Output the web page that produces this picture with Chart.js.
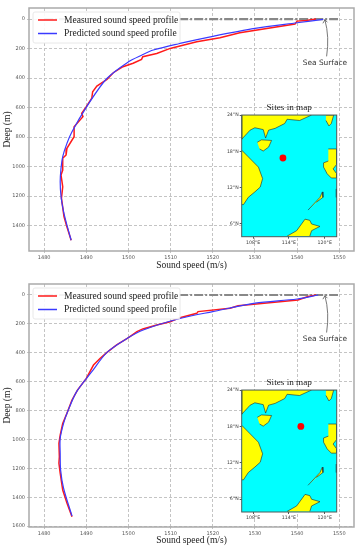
<!DOCTYPE html>
<html>
<head>
<meta charset="utf-8">
<title>Sound speed profiles</title>
<script src="https://cdn.jsdelivr.net/npm/chart.js@4/dist/chart.umd.js"></script>
<style>
    html, body { margin:0; padding:0; background:#fff; }
    #page { position:relative; width:360px; height:550px; overflow:hidden; }
    canvas { position:absolute; }
</style>
</head>
<body>
<div id="page">
    <canvas id="profilChart1" width="360" height="275" style="left:0;top:0"></canvas>
    <canvas id="profilChart2" width="360" height="275" style="left:0;top:275px"></canvas>
    <canvas id="mapChart1" width="120" height="150" style="left:222px;top:100px"></canvas>
    <canvas id="mapChart2" width="120" height="150" style="left:222px;top:375px"></canvas>
</div>
<script>
// --- Data ---
const speedTicks = [1480,1490,1500,1510,1520,1530,1540,1550];
const depthTicks1 = [0,200,400,600,800,1000,1200,1400];
const depthTicks2 = [0,200,400,600,800,1000,1200,1400,1600];
const seaSpeed = [1480,1549.7];
const seaDepth = [0,0];

// Profil du haut
const measuredSpeed1 = [1544.5,1542.2,1540,1539.5,1526.4,1521.7,1516.2,1512.2,1509.9,1506.7,1503.4,1503.1,1501.1,1498.7,1496.4,1494.9,1492.5,1491.5,1491.3,1490,1488.9,1489.2,1487.1,1487.1,1485.4,1485.2,1484.4,1484.4,1484,1484.4,1484.1,1484.7,1485.3,1486.4];
const measuredDepth1 = [0,9,14,34,93,127,154,183,199,233,255,273,300,323,364,409,454,493,536,594,639,662,730,798,877,922,943,1024,1058,1137,1215,1340,1400,1500];
const predictedSpeed1 = [1546.2,1540,1530,1520,1512.2,1505.9,1503.1,1500,1494.8,1490.1,1486.6,1485.4,1484.4,1484,1483.8,1484,1484.6,1485.4,1486.4];
const predictedDepth1 = [2,25,63,117,165,210,245,290,405,594,764,843,933,1010,1103,1205,1306,1398,1500];

// Profil du bas
const measuredSpeed2 = [1544.5,1542.6,1540.2,1526,1524.1,1516.5,1516.2,1512.2,1509.9,1506.7,1503.4,1502,1500,1497.2,1494.9,1493.3,1491.7,1490,1487.9,1486.6,1485.4,1484.4,1483.8,1483.5,1483.6,1483.5,1483.8,1484.4,1485.4,1486.6];
const measuredDepth2 = [0,11,35,74,92,115,127,157,185,208,235,254,295,346,397,438,485,577,658,727,819,889,970,1027,1120,1165,1233,1350,1440,1535];
const predictedSpeed2 = [1545,1540,1530,1520,1512.2,1503.5,1500,1494.9,1491.3,1487.7,1485.6,1484.6,1483.8,1483.8,1483.9,1484.6,1486.6];
const predictedDepth2 = [0,28,57,115,163,242,295,397,531,669,805,889,993,1097,1212,1337,1530];

// Carte
const lonTicks = [108,114,120];
const latTicks = [6,12,18,24];
const chinaLon = [106.1,106.1,107.5,108.3,109.7,110.1,110.6,111.7,113.3,113.7,115.8,117.8];
const chinaLat = [24,20,21.5,21.9,21.6,20.2,21.5,21.8,22.6,23.3,23.1,24];
const riverLon = [110.1,113.1,113.3];
const riverLat = [23.6,23.3,22.9];
const hainanLon = [108.7,109.4,111.1,110.6,109.7,109.1];
const hainanLat = [19.5,19.9,19.8,18.7,18.05,18.4];
const vietnamLon = [106.1,107.2,108.9,109.6,109.2,108.3,107.2,106.4,106.1];
const vietnamLat = [18.2,17.1,15.4,13.5,12.1,11.3,10.4,9.2,9.2];
const taiwanLon = [120.2,121.5,121.1,120.7,120.2];
const taiwanLat = [24,24,22.6,22.2,23.1];
const luzonLon = [120.6,122,122,121.4,122,122,121.1,120.4,119.8,119.8,120.6];
const luzonLat = [18.4,18.4,15.85,15.1,14.3,13.6,13.6,14.3,15.4,16.1,16.4];
const palawanLon = [117.2,119.2,119.6,119.7,118.6];
const palawanLat = [8.3,10.4,11.3,10.4,9.6];
const borneoLon = [113.7,115.3,116.7,117.5,117.8,119.2,117.8,117.5];
const borneoLat = [4,4.9,6.8,6.6,6,5.6,4.9,4];
const mindoroLon = [121.95,121.95];
const mindoroLat = [11.8,10.4];
const siteLon1 = [113];
const siteLat1 = [16.9];
const siteLon2 = [116];
const siteLat2 = [18];

const toPoints = (xs, ys) => xs.map((x, i) => ({x:x, y:ys[i]}));

// --- Plugins ---
const framePlugin = (color, width) => ({
    id:'frame',
    afterDraw(chart) {
        const {ctx, chartArea:a} = chart;
        ctx.save();
        ctx.strokeStyle = color;
        ctx.lineWidth = width;
        ctx.strokeRect(a.left, a.top, a.right - a.left, a.bottom - a.top);
        ctx.restore();
    }
});

// Légende dans le graphique, au-dessus des courbes
const legendPlugin = {
    id:'insideLegend',
    afterDatasetsDraw(chart) {
        const ctx = chart.ctx;
        const top = chart.chartArea.top;
        ctx.save();
        ctx.beginPath();
        ctx.roundRect(33, top + 4, 147, 31, 2);
        ctx.fillStyle = 'rgba(255,255,255,0.9)';
        ctx.fill();
        ctx.strokeStyle = '#e8e8e8';
        ctx.lineWidth = 1;
        ctx.stroke();
        ctx.font = '9.5px "Liberation Serif"';
        ctx.textBaseline = 'middle';
        chart.data.datasets.slice(0, 2).forEach((d, i) => {
            const y = top + 12 + i * 13.5;
            ctx.beginPath();
            ctx.moveTo(38, y);
            ctx.lineTo(57, y);
            ctx.strokeStyle = d.borderColor;
            ctx.lineWidth = 1.5;
            ctx.stroke();
            ctx.fillStyle = '#222';
            ctx.fillText(d.label, 64, y);
        });
        ctx.restore();
    }
};

// Flèche "Sea Surface"
const surfacePlugin = (textDepth) => ({
    id:'surfaceNote',
    afterDatasetsDraw(chart) {
        const {ctx, scales:{x, y}} = chart;
        const tipX = x.getPixelForValue(1546.6), tipY = y.getPixelForValue(5);
        const tailX = x.getPixelForValue(1547), tailY = y.getPixelForValue(textDepth - 45);
        ctx.save();
        ctx.strokeStyle = '#555';
        ctx.lineWidth = 0.8;
        ctx.beginPath();
        ctx.moveTo(tailX, tailY);
        ctx.quadraticCurveTo(tailX + 3, tipY + 17, tipX, tipY);
        ctx.moveTo(tipX - 2, tipY + 3.5);
        ctx.lineTo(tipX, tipY);
        ctx.lineTo(tipX + 2.5, tipY + 2.5);
        ctx.stroke();
        ctx.fillStyle = '#333';
        ctx.font = '7.4px "DejaVu Sans"';
        ctx.textAlign = 'center';
        ctx.textBaseline = 'middle';
        ctx.fillText('Sea Surface', x.getPixelForValue(1546.6), y.getPixelForValue(textDepth));
        ctx.restore();
    }
});

// --- Graphiques ---
function renderProfil(id, measured, predicted, depthTicks, yMin, yMax, yTop, yBottom, textDepth) {
    new Chart(document.getElementById(id).getContext('2d'), {
        type:'scatter',
        data:{datasets:[
            {label:'Measured sound speed profile', data:measured, showLine:true, borderColor:'#ff1a1a', borderWidth:1.5, pointRadius:0, order:1},
            {label:'Predicted sound speed profile', data:predicted, showLine:true, borderColor:'#3a3aff', borderWidth:1.2, pointRadius:0, tension:0.3, order:0},
            {label:'Sea surface', data:toPoints(seaSpeed, seaDepth), showLine:true, borderColor:'#888', borderWidth:2.2, borderDash:[9,2,2,2], pointRadius:0, order:2}
        ]},
        options:{
            responsive:false,
            animation:false,
            layout:{padding:{top:yTop, right:6, left:0, bottom:0}},
            plugins:{legend:{display:false}, tooltip:{enabled:false}},
            scales:{
                x:{
                    type:'linear', min:1476.4, max:1553.5,
                    afterBuildTicks:s => { s.ticks = speedTicks.map(v => ({value:v})); },
                    afterFit:s => { s.height = 275 - yBottom; },
                    grid:{color:'#c4c4c4', tickLength:2},
                    border:{display:false, dash:[3,2]},
                    ticks:{color:'#555', font:{size:5, family:'"DejaVu Sans"'}, maxRotation:0, padding:2, callback:v => String(v)},
                    title:{display:true, text:'Sound speed (m/s)', color:'#222', font:{size:9.5, family:'"Liberation Serif"'}, padding:{top:0, bottom:4}}
                },
                y:{
                    type:'linear', reverse:true, min:yMin, max:yMax,
                    afterBuildTicks:s => { s.ticks = depthTicks.map(v => ({value:v})); },
                    afterFit:s => { s.width = 29; },
                    grid:{color:'#c4c4c4', tickLength:2},
                    border:{display:false, dash:[3,2]},
                    ticks:{color:'#555', font:{size:5, family:'"DejaVu Sans"'}, padding:2, callback:v => String(v)},
                    title:{display:true, text:'Deep (m)', color:'#222', font:{size:9.5, family:'"Liberation Serif"'}, padding:{top:2, bottom:0}}
                }
            }
        },
        plugins:[legendPlugin, surfacePlugin(textDepth), framePlugin('#aaa', 1.5)]
    });
}

function land(lon, lat) {
    return {data:toPoints(lon, lat), showLine:true, fill:'shape', backgroundColor:'#ffff00', borderColor:'#223', borderWidth:0.6, pointRadius:0, tension:0, order:1};
}

function coastLine(lon, lat) {
    return {data:toPoints(lon, lat), showLine:true, borderColor:'#223', borderWidth:0.7, pointRadius:0, order:1};
}

function renderMap(id, siteLon, siteLat, frameTop, frameBottom) {
    new Chart(document.getElementById(id).getContext('2d'), {
        type:'scatter',
        data:{datasets:[
            land(chinaLon, chinaLat),
            coastLine(riverLon, riverLat),
            land(hainanLon, hainanLat),
            land(vietnamLon, vietnamLat),
            land(taiwanLon, taiwanLat),
            land(luzonLon, luzonLat),
            land(palawanLon, palawanLat),
            land(borneoLon, borneoLat),
            coastLine(mindoroLon, mindoroLat),
            {data:toPoints(siteLon, siteLat), backgroundColor:'#ff0000', borderWidth:0, pointRadius:3.4, order:0}
        ]},
        options:{
            responsive:false,
            animation:false,
            layout:{padding:{top:frameTop - 13, right:5.3, left:0, bottom:0}},
            plugins:{
                legend:{display:false},
                tooltip:{enabled:false},
                title:{display:true, fullSize:false, text:'Sites in map', color:'#222', font:{size:9.2, weight:'normal', family:'"Liberation Serif"'}, padding:{top:0, bottom:2}}
            },
            scales:{
                x:{
                    type:'linear', min:106.1, max:122,
                    afterBuildTicks:s => { s.ticks = lonTicks.map(v => ({value:v})); },
                    afterFit:s => { s.height = 150 - frameBottom; },
                    grid:{color:'rgba(0,140,140,0.25)', tickLength:2, tickColor:'#555'},
                    border:{display:false},
                    ticks:{color:'#444', font:{size:4.7, family:'"DejaVu Sans"'}, maxRotation:0, padding:1, callback:v => v + '°E'}
                },
                y:{
                    type:'linear', min:3.9, max:24,
                    afterBuildTicks:s => { s.ticks = latTicks.map(v => ({value:v})); },
                    afterFit:s => { s.width = 19.7; },
                    grid:{color:'rgba(0,140,140,0.25)', tickLength:2, tickColor:'#555'},
                    border:{display:false},
                    ticks:{color:'#444', font:{size:4.7, family:'"DejaVu Sans"'}, padding:1, callback:v => v + '°N'}
                }
            }
        },
        plugins:[
            {id:'sea', beforeDatasetsDraw(chart) {
                const {ctx, chartArea:a} = chart;
                ctx.save();
                ctx.fillStyle = '#00ffff';
                ctx.fillRect(a.left, a.top, a.right - a.left, a.bottom - a.top);
                ctx.restore();
            }},
            framePlugin('#4a5a5a', 1)
        ]
    });
}

renderProfil('profilChart1', toPoints(measuredSpeed1, measuredDepth1), toPoints(predictedSpeed1, predictedDepth1), depthTicks1, -75, 1573, 8, 251, 298);
renderProfil('profilChart2', toPoints(measuredSpeed2, measuredDepth2), toPoints(predictedSpeed2, predictedDepth2), depthTicks2, -76, 1606, 9, 252, 305);
renderMap('mapChart1', siteLon1, siteLat1, 15, 136.7);
renderMap('mapChart2', siteLon2, siteLat2, 15, 137);
</script>
</body>
</html>
